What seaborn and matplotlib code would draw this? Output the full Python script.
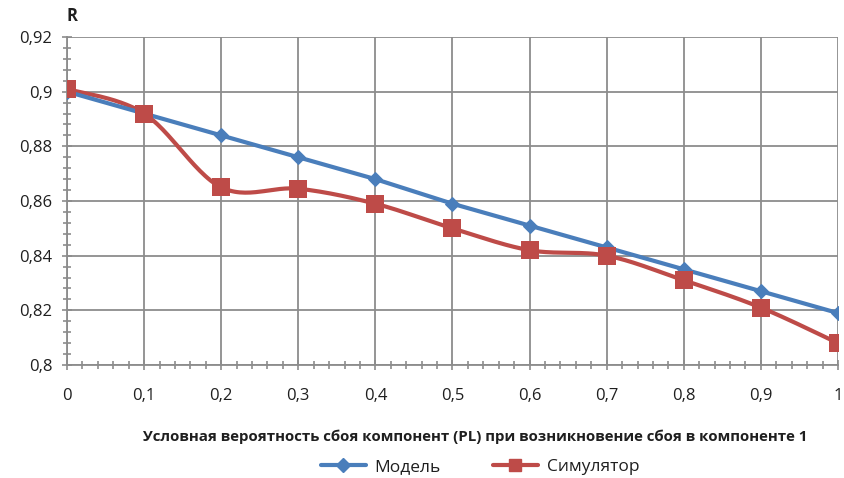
import numpy as np
import pandas as pd
import matplotlib
matplotlib.use("Agg")
import matplotlib.pyplot as plt
from matplotlib.lines import Line2D
from matplotlib.ticker import MultipleLocator, FuncFormatter
import seaborn as sns

# Conditional failure probability of components (PL)
pl = [0.0, 0.1, 0.2, 0.3, 0.4, 0.5, 0.6, 0.7, 0.8, 0.9, 1.0]
# Reliability R: analytical model vs. simulator
r_model = [0.900, 0.892, 0.884, 0.876, 0.868, 0.859, 0.851, 0.843, 0.835, 0.827, 0.819]
r_sim = [0.901, 0.892, 0.865, 0.8645, 0.859, 0.850, 0.842, 0.840, 0.831, 0.821, 0.808]

y_ticks = [0.80, 0.82, 0.84, 0.86, 0.88, 0.90, 0.92]
x_ticks = [0, 0.1, 0.2, 0.3, 0.4, 0.5, 0.6, 0.7, 0.8, 0.9, 1]

series_names = ["Модель", "Симулятор"]
x_title = "Условная вероятность сбоя компонент (PL) при возникновение сбоя в компоненте 1"
y_title = "R"

BLUE = "#4A7EBB"
RED = "#BE4B48"
GRID = "#8C8C8C"
TEXT = "#1F1F1F"


def smooth_curve(xs, ys, n=30):
    """Catmull-Rom style smoothing between the given points."""
    xs = np.asarray(xs, float)
    ys = np.asarray(ys, float)
    px = np.concatenate([[xs[0]], xs, [xs[-1]]])
    py = np.concatenate([[ys[0]], ys, [ys[-1]]])
    out_x, out_y = [], []
    t = np.linspace(0, 1, n)
    for i in range(1, len(px) - 2):
        p0x, p1x, p2x, p3x = px[i - 1:i + 3]
        p0y, p1y, p2y, p3y = py[i - 1:i + 3]
        # cubic Bezier control points
        c1x, c1y = p1x + (p2x - p0x) / 6, p1y + (p2y - p0y) / 6
        c2x, c2y = p2x - (p3x - p1x) / 6, p2y - (p3y - p1y) / 6
        bx = ((1 - t) ** 3 * p1x + 3 * (1 - t) ** 2 * t * c1x
              + 3 * (1 - t) * t ** 2 * c2x + t ** 3 * p2x)
        by = ((1 - t) ** 3 * p1y + 3 * (1 - t) ** 2 * t * c1y
              + 3 * (1 - t) * t ** 2 * c2y + t ** 3 * p2y)
        out_x.extend(bx[:-1] if i < len(px) - 3 else bx)
        out_y.extend(by[:-1] if i < len(px) - 3 else by)
    return np.array(out_x), np.array(out_y)


sns.set_theme(style="white")
plt.rcParams["font.family"] = ["Open Sans", "DejaVu Sans"]

fig = plt.figure(figsize=(8.45, 4.78), dpi=100)
ax = fig.add_axes([67 / 845, 1 - 365 / 478, (838 - 67) / 845, (365 - 37) / 478])

df_model = pd.DataFrame({"PL": pl, "R": r_model})
df_sim = pd.DataFrame({"PL": pl, "R": r_sim})
sx, sy = smooth_curve(pl, r_sim)
df_sim_smooth = pd.DataFrame({"PL": sx, "R": sy})

sns.lineplot(data=df_model, x="PL", y="R", ax=ax, color=BLUE, linewidth=3.0,
             marker="D", markersize=7.5, markeredgecolor=BLUE, zorder=4)
sns.lineplot(data=df_sim_smooth, x="PL", y="R", ax=ax, color=RED, linewidth=3.0,
             zorder=3)
sns.scatterplot(data=df_sim, x="PL", y="R", ax=ax, color=RED, marker="s",
                s=150, edgecolor=RED, linewidth=0, zorder=5)

ax.set_xlim(0, 1)
ax.set_ylim(0.80, 0.92)
ax.set_xticks(x_ticks)
ax.set_yticks(y_ticks)
ax.xaxis.set_minor_locator(MultipleLocator(0.02))
ax.yaxis.set_minor_locator(MultipleLocator(0.004))

comma = FuncFormatter(lambda v, p: (f"{v:.2f}".rstrip("0").rstrip(".")).replace(".", ","))
ax.xaxis.set_major_formatter(comma)
ax.yaxis.set_major_formatter(comma)

ax.grid(True, which="major", color=GRID, linewidth=1.3)
ax.set_axisbelow(True)
for side in ("top", "right"):
    ax.spines[side].set_visible(False)
for side in ("left", "bottom"):
    ax.spines[side].set_color(GRID)
    ax.spines[side].set_linewidth(1.3)

ax.tick_params(which="both", direction="inout", color=GRID, width=1.2,
               left=True, bottom=True)
ax.tick_params(which="major", length=7)
ax.tick_params(which="minor", length=6)
ax.tick_params(axis="x", which="major", pad=13, labelsize=12, labelcolor=TEXT)
ax.tick_params(axis="y", which="major", pad=7, labelsize=12, labelcolor=TEXT)

ax.set_xlabel(x_title, fontsize=10.8, fontweight="bold", color=TEXT)
ax.xaxis.set_label_coords((475 - 67) / (838 - 67), -(437 - 365) / (365 - 37))
ax.xaxis.label.set_va("center")
ax.set_ylabel("")
ax.text(0.0, 0.92 + 0.0078, y_title, transform=ax.transData, fontsize=12,
        fontweight="bold", color=TEXT, ha="left", va="center", clip_on=False)

handles = [
    Line2D([0], [0], color=BLUE, lw=3, marker="D", markersize=7),
    Line2D([0], [0], color=RED, lw=3, marker="s", markersize=9),
]
fig.legend(handles, series_names, loc="center", bbox_to_anchor=(480 / 845, 1 - 467 / 478),
           ncol=2, frameon=False, fontsize=12.5, handlelength=2.6, columnspacing=3.0,
           handletextpad=0.5)
for t in fig.legends[0].get_texts():
    t.set_color(TEXT)

fig.savefig("out.png", dpi=100)
